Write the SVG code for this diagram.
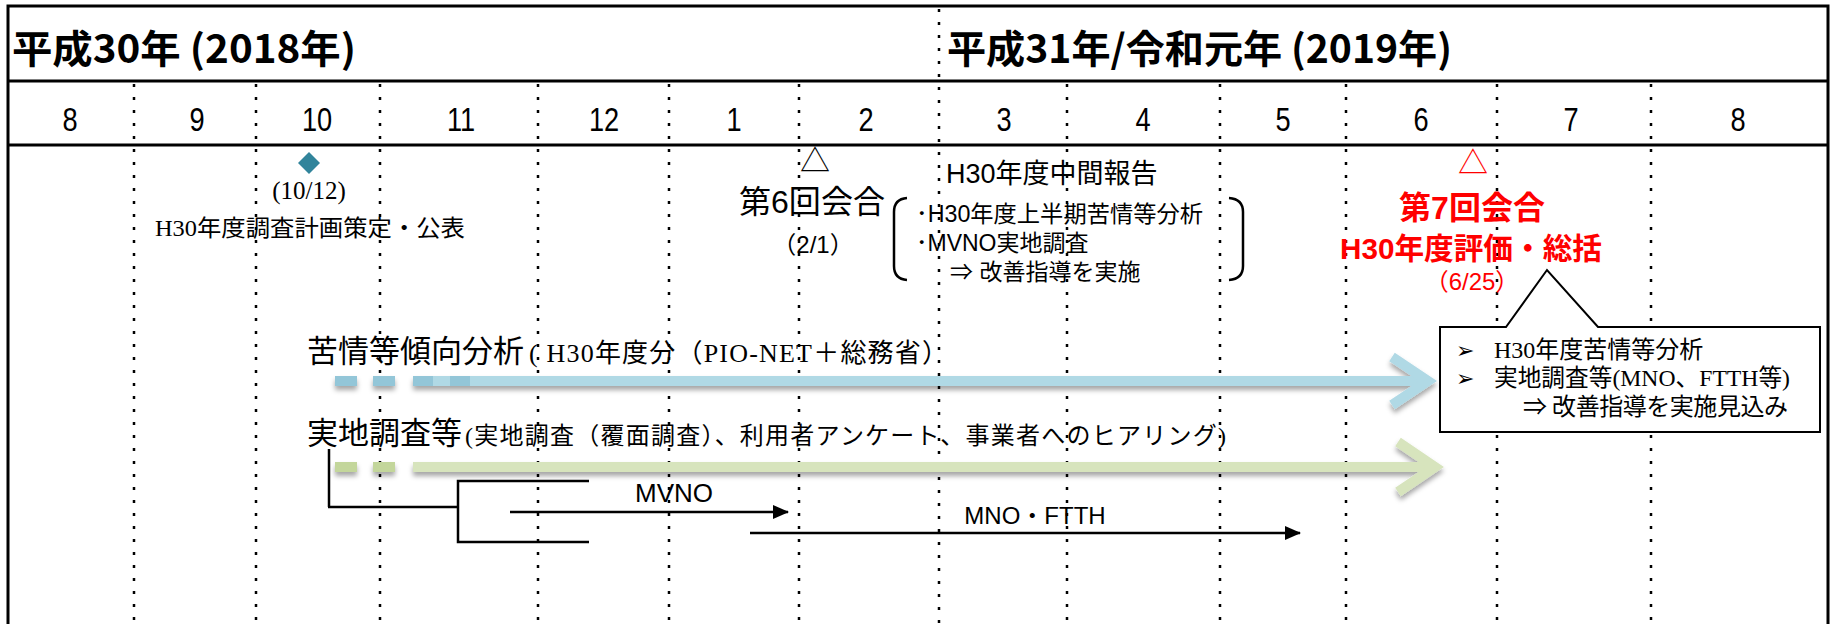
<svg xmlns="http://www.w3.org/2000/svg" width="1831" height="624" viewBox="0 0 1831 624">
<defs>
<style>
.sans{font-family:"Noto Sans CJK JP","Liberation Sans",sans-serif;}
.lsans{font-family:"Liberation Sans","Noto Sans CJK JP",sans-serif;}
.lat{font-family:"Liberation Sans","Noto Sans CJK JP",sans-serif;}
.serif{font-family:"Liberation Serif","Noto Sans CJK JP",serif;}
.grid{stroke:#000;stroke-width:2.5;stroke-dasharray:3 10;fill:none;}
.frame{stroke:#000;stroke-width:3;fill:none;}
.month{font-family:"Liberation Sans",sans-serif;font-size:34px;text-anchor:middle;}
.line{stroke:#000;stroke-width:2.5;fill:none;}
.red{fill:#FF0000;}
.mid{text-anchor:middle;}
.year{font-family:"Noto Sans CJK JP","Liberation Sans",sans-serif;font-weight:bold;font-size:39px;}
.bul{font-family:"DejaVu Sans",sans-serif;font-size:22px;}
</style>
<filter id="sh" x="-5%" y="-60%" width="110%" height="220%">
<feDropShadow dx="0" dy="4" stdDeviation="2.5" flood-color="#000" flood-opacity="0.35"/>
</filter>
<marker id="ah" markerUnits="userSpaceOnUse" markerWidth="16" markerHeight="16" viewBox="0 0 16 16" refX="15" refY="8" orient="auto">
<path d="M0,1 L16,8 L0,15 Z" fill="#000"/>
</marker>
</defs>
<rect width="1831" height="624" fill="#fff"/>

<g id="frame">
<path class="frame" d="M8,624 L8,6 L1828,6 L1828,624"/>
<line class="frame" x1="8" y1="81" x2="1828" y2="81"/>
<line class="frame" x1="8" y1="145" x2="1828" y2="145"/>
</g>

<g id="grid">
<line class="grid" x1="134" y1="84" x2="134" y2="624"/>
<line class="grid" x1="256" y1="84" x2="256" y2="624"/>
<line class="grid" x1="380" y1="84" x2="380" y2="624"/>
<line class="grid" x1="538" y1="84" x2="538" y2="624"/>
<line class="grid" x1="669" y1="84" x2="669" y2="624"/>
<line class="grid" x1="799" y1="84" x2="799" y2="624"/>
<line class="grid" x1="939" y1="9" x2="939" y2="624"/>
<line class="grid" x1="1067" y1="84" x2="1067" y2="624"/>
<line class="grid" x1="1220" y1="84" x2="1220" y2="624"/>
<line class="grid" x1="1346" y1="84" x2="1346" y2="624"/>
<line class="grid" x1="1497" y1="84" x2="1497" y2="624"/>
<line class="grid" x1="1651" y1="84" x2="1651" y2="624"/>
</g>

<g id="years">
<text class="year" x="12" y="63" textLength="344" lengthAdjust="spacingAndGlyphs">平成30年 (2018年)</text>
<text class="year" x="947" y="63" textLength="505" lengthAdjust="spacingAndGlyphs">平成31年/令和元年 (2019年)</text>
</g>

<g id="months" class="month">
<text transform="translate(70,131) scale(0.8,1)">8</text>
<text transform="translate(197,131) scale(0.8,1)">9</text>
<text transform="translate(317,131) scale(0.8,1)">10</text>
<text transform="translate(461,131) scale(0.8,1)">11</text>
<text transform="translate(604,131) scale(0.8,1)">12</text>
<text transform="translate(734,131) scale(0.8,1)">1</text>
<text transform="translate(866,131) scale(0.8,1)">2</text>
<text transform="translate(1004,131) scale(0.8,1)">3</text>
<text transform="translate(1143,131) scale(0.8,1)">4</text>
<text transform="translate(1283,131) scale(0.8,1)">5</text>
<text transform="translate(1421,131) scale(0.8,1)">6</text>
<text transform="translate(1571,131) scale(0.8,1)">7</text>
<text transform="translate(1738,131) scale(0.8,1)">8</text>
</g>

<g id="plan-publish">
<polygon points="309,152 320,163 309,174 298,163" fill="#31849B"/>
<text class="serif mid" x="309" y="199" font-size="25">(10/12)</text>
<text class="serif mid" x="310" y="236" font-size="23" textLength="310" lengthAdjust="spacingAndGlyphs">H30年度調査計画策定・公表</text>
</g>

<g id="meeting6">
<text class="sans mid" x="815" y="171" font-size="30">△</text>
<text class="lsans mid" x="812" y="213" font-size="32" textLength="146" lengthAdjust="spacingAndGlyphs">第6回会合</text>
<text class="lsans mid" x="813" y="253" font-size="24">（2/1）</text>
</g>

<g id="interim-report">
<text class="lsans" x="946" y="183" font-size="27">H30年度中間報告</text>
<path class="line" stroke-width="2" d="M907,198 Q894,199 894,212 L894,266 Q894,279 907,280"/>
<path class="line" stroke-width="2" d="M1229,198 Q1243,199 1243,212 L1243,266 Q1243,279 1229,280"/>
<text class="lsans" x="916" y="222" font-size="23" textLength="287" lengthAdjust="spacingAndGlyphs">･H30年度上半期苦情等分析</text>
<text class="lsans" x="916" y="251" font-size="23">･MVNO実地調査</text>
<text class="lsans" x="950" y="280" font-size="23">⇒ 改善指導を実施</text>
</g>

<g id="meeting7">
<text class="sans mid red" x="1473" y="173" font-size="30">△</text>
<text class="lsans mid red" x="1472" y="219" font-size="32" font-weight="bold">第7回会合</text>
<text class="lsans mid red" x="1471" y="259" font-size="30" font-weight="bold" textLength="262" lengthAdjust="spacingAndGlyphs">H30年度評価・総括</text>
<text class="lsans mid red" x="1472" y="290" font-size="24">（6/25）</text>
</g>

<g id="callout">
<path d="M1440,327 L1506,327 L1547,270 L1598,327 L1820,327 L1820,432 L1440,432 Z" fill="#fff" stroke="#000" stroke-width="2"/>
<text class="bul" x="1456" y="358">➢</text>
<text class="serif" x="1494" y="358" font-size="24">H30年度苦情等分析</text>
<text class="bul" x="1456" y="386">➢</text>
<text class="serif" x="1494" y="386" font-size="24" textLength="296" lengthAdjust="spacingAndGlyphs">実地調査等(MNO、FTTH等)</text>
<text class="serif" x="1523" y="415" font-size="24" textLength="265" lengthAdjust="spacing">⇒ 改善指導を実施見込み</text>
</g>

<g id="complaint-analysis">
<text class="sans" x="307" y="362" font-size="31">苦情等傾向分析</text>
<text class="serif" x="529" y="362" font-size="26" textLength="419" lengthAdjust="spacing">( H30年度分（PIO-NET＋総務省）</text>
</g>

<g id="field-survey">
<text class="sans" x="307" y="444" font-size="31">実地調査等</text>
<text class="serif" x="465" y="444" font-size="24" textLength="761" lengthAdjust="spacing">(実地調査（覆面調査）、利用者アンケート、事業者へのヒアリング)</text>
</g>

<g id="connectors">
<g id="blue-arrow" filter="url(#sh)">
<line x1="413" y1="381" x2="1424" y2="381" stroke="#B0D9E5" stroke-width="10"/>
<path d="M1392,357 L1428,381 L1392,405" fill="none" stroke="#B0D9E5" stroke-width="10"/>
<g stroke="#93C6D8" stroke-width="10">
<line x1="335" y1="381" x2="357" y2="381"/>
<line x1="373" y1="381" x2="395" y2="381"/>
<line x1="413" y1="381" x2="433" y2="381"/>
<line x1="450" y1="381" x2="470" y2="381"/>
</g>
</g>
<g id="green-arrow" filter="url(#sh)">
<line x1="413" y1="467" x2="1430" y2="467" stroke="#D7E4BD" stroke-width="10"/>
<path d="M1398,442 L1435,467 L1398,492" fill="none" stroke="#D7E4BD" stroke-width="10"/>
<g stroke="#C3D69B" stroke-width="10">
<line x1="335" y1="467" x2="357" y2="467"/>
<line x1="373" y1="467" x2="395" y2="467"/>
</g>
</g>
<path class="line" d="M329,449 L329,507"/>
<path class="line" stroke-width="3.5" d="M328,507 L458,507"/>
<path class="line" d="M589,481 L458,481 L458,542 L589,542"/>
<line x1="510" y1="512" x2="788" y2="512" stroke="#000" stroke-width="2.5" marker-end="url(#ah)"/>
<line x1="750" y1="533" x2="1300" y2="533" stroke="#000" stroke-width="2.5" marker-end="url(#ah)"/>
</g>

<g id="labels">
<text class="lat mid" x="674" y="502" font-size="26">MVNO</text>
<text class="lat mid" x="1035" y="524" font-size="24">MNO・FTTH</text>
</g>
</svg>
